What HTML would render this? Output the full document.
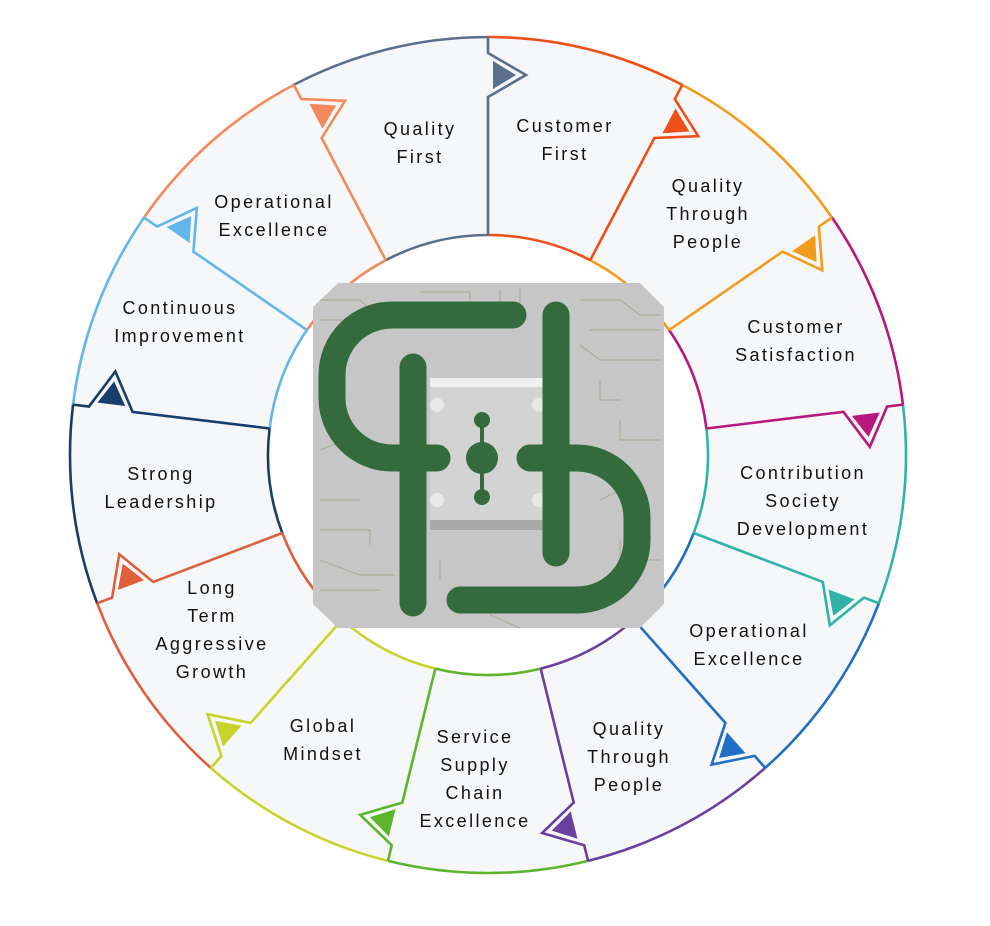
<!DOCTYPE html>
<html><head><meta charset="utf-8"><style>
html,body{margin:0;padding:0;background:#fff;width:990px;height:926px;overflow:hidden;}
svg{display:block;}
text{font-family:"Liberation Sans",sans-serif;font-size:18px;letter-spacing:2.4px;fill:#111;text-anchor:middle;}
</style></head><body>
<svg width="990" height="926" viewBox="0 0 990 926" xmlns="http://www.w3.org/2000/svg">
<rect width="990" height="926" fill="#fff"/>
<circle cx="488" cy="455" r="319" fill="none" stroke="#f6f7f9" stroke-width="198"/>
<g fill="none" stroke-width="2.6">
<g stroke-dasharray="202.03 3000">
<circle cx="488" cy="455" r="418" stroke="#5a6e8e" transform="rotate(-117.69 488 455)"/>
<circle cx="488" cy="455" r="418" stroke="#ee4f17" transform="rotate(-90 488 455)"/>
<circle cx="488" cy="455" r="418" stroke="#f39c1c" transform="rotate(-62.31 488 455)"/>
<circle cx="488" cy="455" r="418" stroke="#b8177c" transform="rotate(-34.62 488 455)"/>
<circle cx="488" cy="455" r="418" stroke="#2fb3a9" transform="rotate(-6.92 488 455)"/>
<circle cx="488" cy="455" r="418" stroke="#1f6fc5" transform="rotate(20.77 488 455)"/>
<circle cx="488" cy="455" r="418" stroke="#6b3fa0" transform="rotate(48.46 488 455)"/>
<circle cx="488" cy="455" r="418" stroke="#5db52e" transform="rotate(76.15 488 455)"/>
<circle cx="488" cy="455" r="418" stroke="#c8d42c" transform="rotate(103.85 488 455)"/>
<circle cx="488" cy="455" r="418" stroke="#df5f3d" transform="rotate(131.54 488 455)"/>
<circle cx="488" cy="455" r="418" stroke="#173e6a" transform="rotate(159.23 488 455)"/>
<circle cx="488" cy="455" r="418" stroke="#62b6ec" transform="rotate(186.92 488 455)"/>
<circle cx="488" cy="455" r="418" stroke="#f28b5b" transform="rotate(214.62 488 455)"/>
</g>
<g stroke-dasharray="106.3 3000">
<circle cx="488" cy="455" r="220" stroke="#5a6e8e" transform="rotate(-117.69 488 455)"/>
<circle cx="488" cy="455" r="220" stroke="#ee4f17" transform="rotate(-90 488 455)"/>
<circle cx="488" cy="455" r="220" stroke="#f39c1c" transform="rotate(-62.31 488 455)"/>
<circle cx="488" cy="455" r="220" stroke="#b8177c" transform="rotate(-34.62 488 455)"/>
<circle cx="488" cy="455" r="220" stroke="#2fb3a9" transform="rotate(-6.92 488 455)"/>
<circle cx="488" cy="455" r="220" stroke="#1f6fc5" transform="rotate(20.77 488 455)"/>
<circle cx="488" cy="455" r="220" stroke="#6b3fa0" transform="rotate(48.46 488 455)"/>
<circle cx="488" cy="455" r="220" stroke="#5db52e" transform="rotate(76.15 488 455)"/>
<circle cx="488" cy="455" r="220" stroke="#c8d42c" transform="rotate(103.85 488 455)"/>
<circle cx="488" cy="455" r="220" stroke="#df5f3d" transform="rotate(131.54 488 455)"/>
<circle cx="488" cy="455" r="220" stroke="#173e6a" transform="rotate(159.23 488 455)"/>
<circle cx="488" cy="455" r="220" stroke="#62b6ec" transform="rotate(186.92 488 455)"/>
<circle cx="488" cy="455" r="220" stroke="#f28b5b" transform="rotate(214.62 488 455)"/>
</g>
</g>
<defs>
<g id="div">
<polyline points="488,37 488,53 526,75 488,97 488,235" fill="none" stroke-width="2.6" stroke-linejoin="miter"/>
<polygon points="493,61 493,89 516,75" stroke="none"/>
</g>
</defs>
<use href="#div" stroke="#5a6e8e" fill="#5a6e8e"/>
<use href="#div" stroke="#ee4f17" fill="#ee4f17" transform="rotate(27.69 488 455)"/>
<use href="#div" stroke="#f39c1c" fill="#f39c1c" transform="rotate(55.38 488 455)"/>
<use href="#div" stroke="#b8177c" fill="#b8177c" transform="rotate(83.08 488 455)"/>
<use href="#div" stroke="#2fb3a9" fill="#2fb3a9" transform="rotate(110.77 488 455)"/>
<use href="#div" stroke="#1f6fc5" fill="#1f6fc5" transform="rotate(138.46 488 455)"/>
<use href="#div" stroke="#6b3fa0" fill="#6b3fa0" transform="rotate(166.15 488 455)"/>
<use href="#div" stroke="#5db52e" fill="#5db52e" transform="rotate(193.85 488 455)"/>
<use href="#div" stroke="#c8d42c" fill="#c8d42c" transform="rotate(221.54 488 455)"/>
<use href="#div" stroke="#df5f3d" fill="#df5f3d" transform="rotate(249.23 488 455)"/>
<use href="#div" stroke="#173e6a" fill="#173e6a" transform="rotate(276.92 488 455)"/>
<use href="#div" stroke="#62b6ec" fill="#62b6ec" transform="rotate(304.62 488 455)"/>
<use href="#div" stroke="#f28b5b" fill="#f28b5b" transform="rotate(332.31 488 455)"/>

<polygon points="338,283 640,283 664,307 664,604 640,628 338,628 313,604 313,307" fill="#c6c6c6"/>
<g stroke="#a9a58e" stroke-width="1.2" fill="none" opacity="0.8">
<path d="M320,300 H360 L375,315 H420"/><path d="M320,320 H345"/><path d="M420,292 H470 V300"/><path d="M500,290 V310"/><path d="M520,288 V305"/>
<path d="M580,300 H620 L640,315 H660"/><path d="M590,330 H660"/><path d="M580,345 L600,360 H660"/><path d="M600,380 V400 H620"/><path d="M620,420 V440 H660"/>
<path d="M320,380 H345 V400"/><path d="M320,450 L345,440"/><path d="M320,500 H360"/><path d="M320,530 H370 V545"/><path d="M320,560 L360,575 H395"/><path d="M320,590 H380"/>
<path d="M440,560 V580"/><path d="M450,600 H520"/><path d="M490,615 L520,628"/><path d="M580,590 H620"/><path d="M620,540 V560 H660"/><path d="M600,500 L640,480"/>
</g>
<rect x="430" y="378" width="116" height="152" fill="#d3d3d3"/>
<rect x="430" y="378" width="116" height="9" fill="#f0f0f0"/>
<rect x="430" y="520" width="116" height="10" fill="#a9a9a9"/>
<circle cx="437" cy="405" r="7" fill="#e8e8e8"/><circle cx="539" cy="405" r="7" fill="#e8e8e8"/>
<circle cx="437" cy="500" r="7" fill="#e8e8e8"/><circle cx="539" cy="500" r="7" fill="#e8e8e8"/>
<g fill="none" stroke="#336b3d" stroke-width="27" stroke-linecap="round">
<path d="M513,315 H392 A60,60 0 0 0 332,375 V398 A60,60 0 0 0 392,458 H437"/>
<path d="M413,367 V603"/>
<path d="M556,315 V553"/>
<path d="M530,458 H577 A60,60 0 0 1 637,518 V540 A60,60 0 0 1 577,600 H460"/>
</g>
<line x1="482" y1="420" x2="482" y2="497" stroke="#336b3d" stroke-width="4"/>
<circle cx="482" cy="458" r="16" fill="#336b3d"/>
<circle cx="482" cy="420" r="8" fill="#336b3d"/>
<circle cx="482" cy="497" r="8" fill="#336b3d"/>

<text x="420" y="135">Quality</text><text x="420" y="163">First</text>
<text x="565" y="132">Customer</text><text x="565" y="160">First</text>
<text x="708" y="192">Quality</text><text x="708" y="220">Through</text><text x="708" y="248">People</text>
<text x="796" y="333">Customer</text><text x="796" y="361">Satisfaction</text>
<text x="803" y="479">Contribution</text><text x="803" y="507">Society</text><text x="803" y="535">Development</text>
<text x="749" y="637">Operational</text><text x="749" y="665">Excellence</text>
<text x="629" y="735">Quality</text><text x="629" y="763">Through</text><text x="629" y="791">People</text>
<text x="475" y="743">Service</text><text x="475" y="771">Supply</text><text x="475" y="799">Chain</text><text x="475" y="827">Excellence</text>
<text x="323" y="732">Global</text><text x="323" y="760">Mindset</text>
<text x="212" y="594">Long</text><text x="212" y="622">Term</text><text x="212" y="650">Aggressive</text><text x="212" y="678">Growth</text>
<text x="161" y="480">Strong</text><text x="161" y="508">Leadership</text>
<text x="180" y="314">Continuous</text><text x="180" y="342">Improvement</text>
<text x="274" y="208">Operational</text><text x="274" y="236">Excellence</text>
</svg>
</body></html>
